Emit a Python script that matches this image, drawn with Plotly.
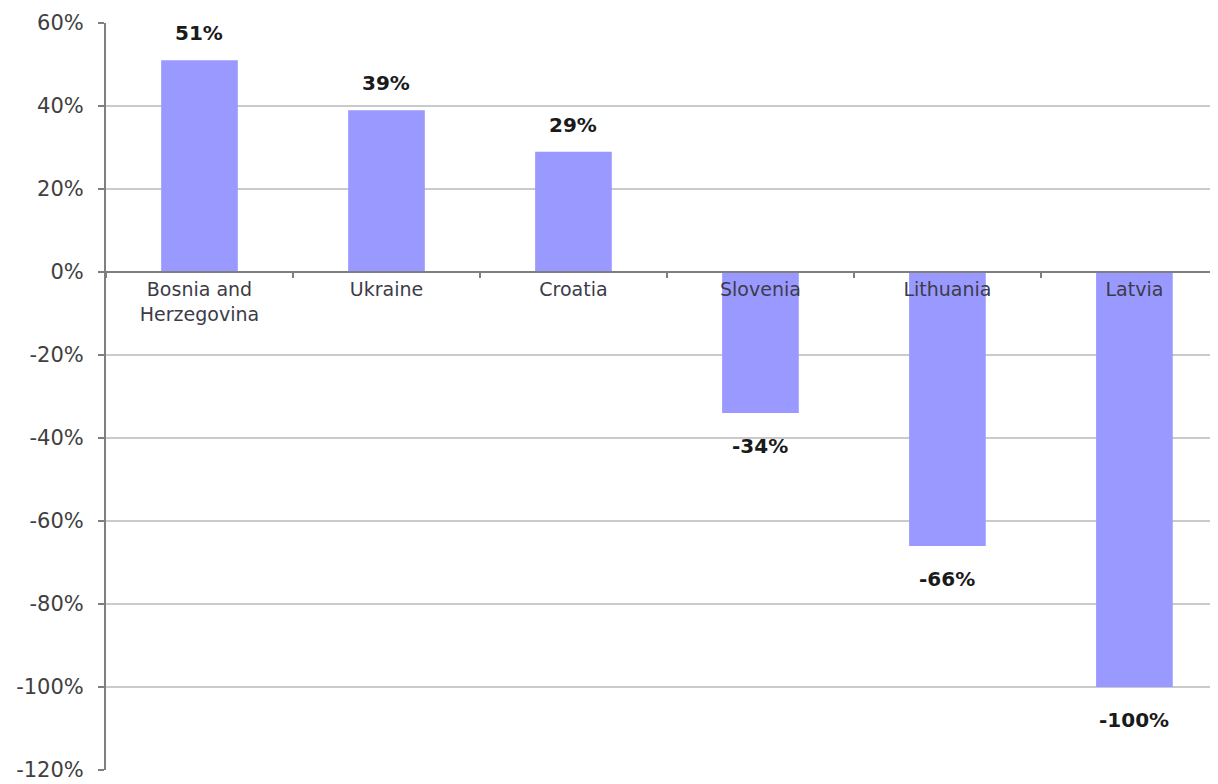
import plotly.graph_objects as go

categories = ["Bosnia and<br>Herzegovina", "Ukraine", "Croatia", "Slovenia", "Lithuania", "Latvia"]
values = [51, 39, 29, -34, -66, -100]
labels = ["51%", "39%", "29%", "-34%", "-66%", "-100%"]
ytick_vals = [60, 40, 20, 0, -20, -40, -60, -80, -100, -120]

FONT = "DejaVu Sans"

fig = go.Figure()
fig.add_trace(go.Bar(
    x=categories, y=values,
    marker=dict(color="#9999FF", line=dict(width=0)),
    width=0.41,
    showlegend=False,
    hoverinfo="skip",
))

for c, v, t in zip(categories, values, labels):
    fig.add_annotation(
        x=c, y=v, text="<b>" + t + "</b>", showarrow=False,
        xref="x", yref="y",
        yshift=27 if v >= 0 else -33,
        font=dict(family=FONT, size=20, color="#1a1a1a"),
    )

# page body has an 8px default margin, so the figure is sized to fit the window
fig.update_layout(
    width=1210, height=776,
    margin=dict(l=98, r=0, t=15, b=14),
    paper_bgcolor="white", plot_bgcolor="white",
    bargap=0.59,
    xaxis=dict(
        range=[-0.5, 5.447],
        anchor="free", position=120 / 180,
        automargin=False,
        showline=True, linecolor="#7f7f7f", linewidth=2,
        ticks="outside", tickson="boundaries", ticklen=5, tickcolor="#7f7f7f", tickwidth=2,
        showgrid=False, zeroline=False,
        tickfont=dict(family=FONT, size=19, color="#3c3c48"),
        fixedrange=True,
    ),
    yaxis=dict(
        range=[-120, 60],
        automargin=False,
        tickvals=ytick_vals,
        ticktext=[f"{v}%" for v in ytick_vals],
        showline=True, linecolor="#7f7f7f", linewidth=2,
        ticks="outside", ticklen=6, tickcolor="#7f7f7f", tickwidth=2,
        ticklabelstandoff=10,
        showgrid=True, gridcolor="#cacaca", gridwidth=2,
        zeroline=False,
        tickfont=dict(family=FONT, size=21, color="#404040"),
        fixedrange=True,
    ),
)

fig.write_html("out.html")
